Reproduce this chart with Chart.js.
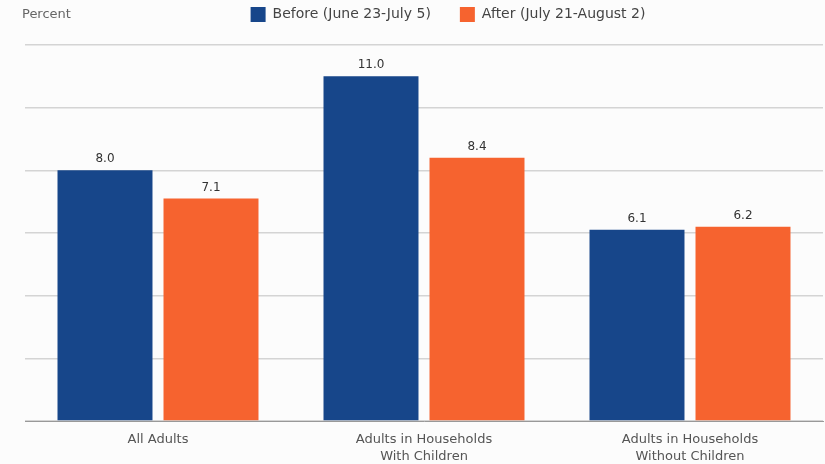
<!DOCTYPE html>
<html>
<head>
<meta charset="utf-8">
<script src="https://cdn.jsdelivr.net/npm/chart.js@4/dist/chart.umd.min.js"></script>
<style>
  html, body { margin: 0; padding: 0; background: #fcfcfc; }
  #wrap { width: 825px; height: 464px; }
</style>
</head>
<body>
<div id="wrap"><canvas id="barChart"></canvas></div>
<script>
var categories = [
    ['All Adults'],
    ['Adults in Households', 'With Children'],
    ['Adults in Households', 'Without Children']
];
var beforeLabel = 'Before (June 23-July 5)';
var afterLabel = 'After (July 21-August 2)';
var beforeVals = [8.0, 11.0, 6.1];
var afterVals = [7.1, 8.4, 6.2];
var yTicks = [0, 2, 4, 6, 8, 10, 12];

var fontName = '"DejaVu Sans", sans-serif';

// numbers above each bar + the "Percent" note
var valueLabels = {
    id: 'valueLabels',
    afterDatasetsDraw(chart) {
        const ctx = chart.ctx;
        ctx.save();
        ctx.fillStyle = '#333';
        ctx.font = '12px ' + fontName;
        ctx.textAlign = 'center';
        ctx.textBaseline = 'bottom';
        chart.data.datasets.forEach((ds, i) => {
            chart.getDatasetMeta(i).data.forEach((bar, j) => {
                ctx.fillText(ds.data[j].toFixed(1), bar.x, bar.y - 5);
            });
        });
        ctx.fillStyle = '#666';
        ctx.textAlign = 'left';
        ctx.textBaseline = 'middle';
        ctx.font = '13px ' + fontName;
        ctx.fillText('Percent', 22, 15);
        ctx.restore();
    }
};

// legend: keep wide item spacing but sit it near the top
var legendNudge = {
    id: 'legendNudge',
    beforeInit(chart) {
        const origFit = chart.legend.fit;
        chart.legend.fit = function () {
            origFit.bind(chart.legend)();
            this.height = 45;
        };
    },
    afterLayout(chart) {
        const lg = chart.legend;
        lg.top -= 22;
        lg.left += 24;
        lg.right += 24;
    }
};

const ctx = document.getElementById('barChart').getContext('2d');

new Chart(ctx, {
    type: 'bar',
    data: {
        labels: categories,
        datasets: [{
            label: beforeLabel,
            data: beforeVals,
            backgroundColor: '#17468a',
            categoryPercentage: 0.797,
            barPercentage: 0.896
        }, {
            label: afterLabel,
            data: afterVals,
            backgroundColor: '#f6632f',
            categoryPercentage: 0.797,
            barPercentage: 0.896
        }]
    },
    options: {
        responsive: true,
        maintainAspectRatio: false,
        animation: false,
        layout: { padding: { left: 25, right: 2, top: 0, bottom: 0 } },
        plugins: {
            legend: {
                position: 'top',
                align: 'center',
                labels: {
                    boxWidth: 15,
                    boxHeight: 15,
                    padding: 29,
                    color: '#444',
                    font: { family: fontName, size: 14 }
                }
            },
            tooltip: { enabled: false }
        },
        scales: {
            x: {
                grid: { display: false },
                border: { color: '#999' },
                afterFit: axis => { axis.height = 43; },
                ticks: {
                    color: '#555',
                    padding: 2,
                    font: { family: fontName, size: 13, lineHeight: 1.3 }
                }
            },
            y: {
                min: 0,
                max: 12,
                afterBuildTicks: axis => { axis.ticks = yTicks.map(v => ({ value: v })); },
                ticks: { display: false },
                border: { display: false },
                grid: { color: '#d4d4d4', lineWidth: 1.5, drawTicks: false }
            }
        }
    },
    plugins: [valueLabels, legendNudge]
});
</script>
</body>
</html>
